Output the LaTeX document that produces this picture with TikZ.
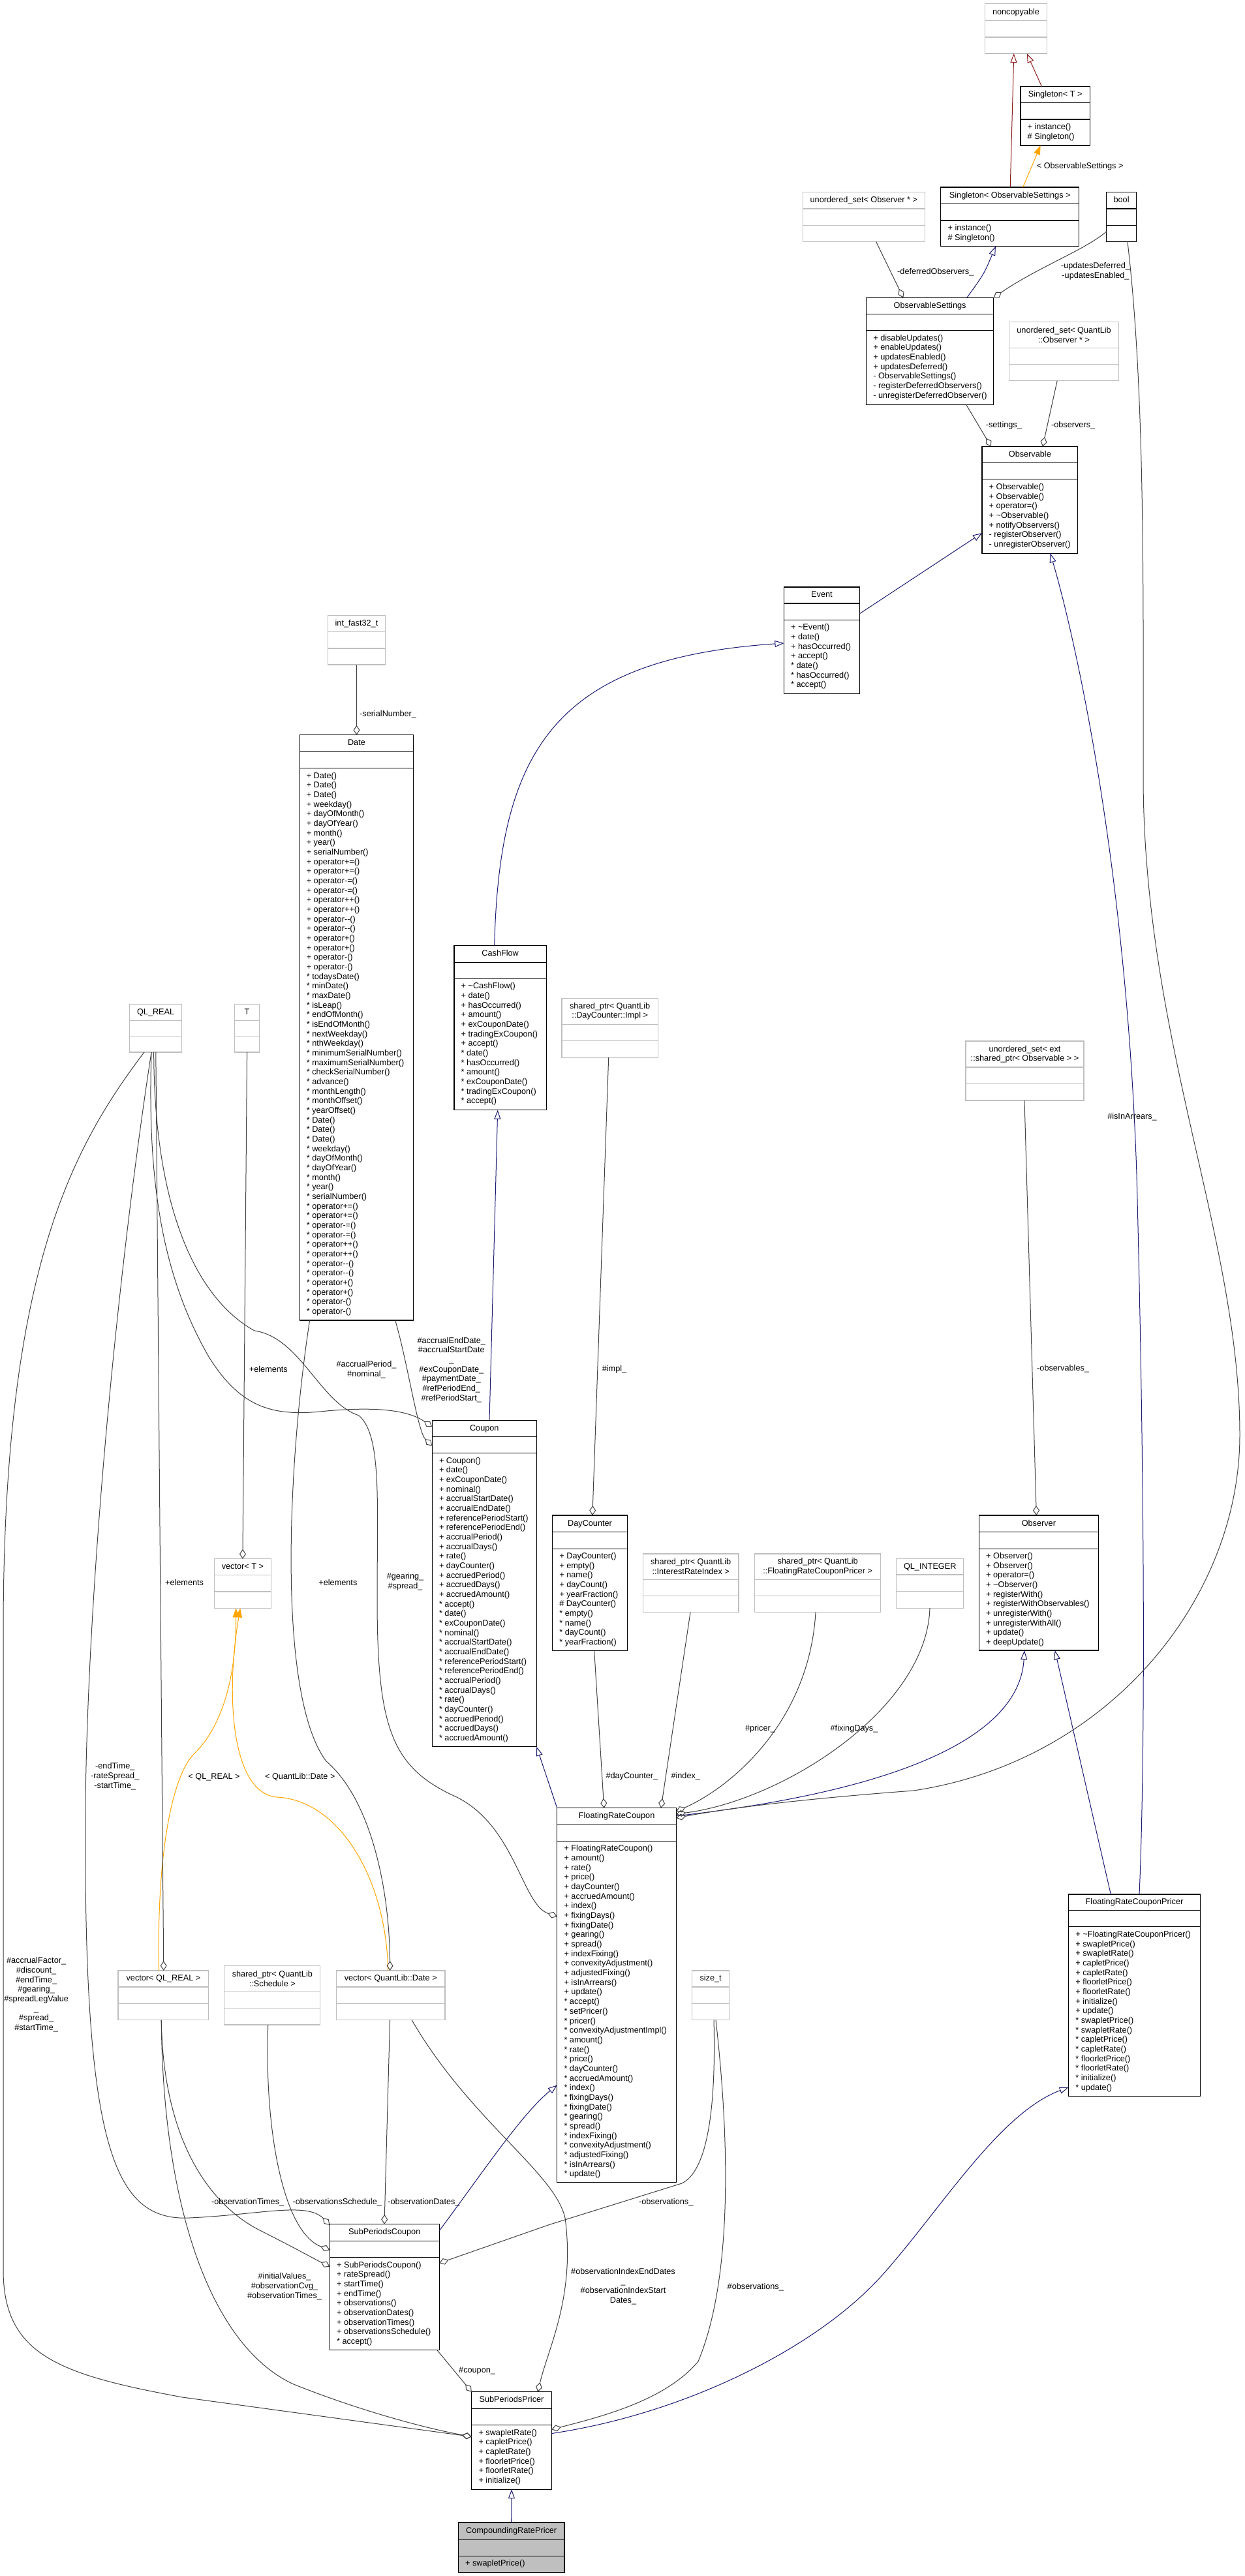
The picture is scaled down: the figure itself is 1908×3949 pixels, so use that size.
\documentclass[tikz,border=0pt]{standalone}
\usepackage{fontspec}
\setmainfont{Liberation Sans}
\usetikzlibrary{arrows.meta, calc}
\definecolor{navy}{HTML}{191970}
\definecolor{privred}{HTML}{8B1A1A}
\definecolor{usegray}{HTML}{404040}
\definecolor{extgray}{HTML}{BFBFBF}
\definecolor{tmplorange}{HTML}{FFA500}
\newcommand{\umlfont}{\fontsize{12.7}{14.67}\selectfont}
\tikzset{
  cls/.style={draw=black, line width=1.1pt, fill=white, inner sep=0pt, outer sep=0pt},
  ext/.style={cls, draw=extgray},
  focus/.style={cls, fill=extgray},
  title/.style={font=\umlfont, inner sep=0pt, align=center},
  members/.style={font=\umlfont, inner sep=0pt, align=left, anchor=north west},
  lbl/.style={font=\umlfont, inner sep=0pt, align=center},
  inherit/.style={draw=navy, line width=1pt, -{Triangle[open, length=14pt, width=10pt]}},
  private/.style={inherit, draw=privred},
  tmpl/.style={draw=tmplorange, line width=1pt, -{Triangle[length=14pt, width=10pt]}},
  uses/.style={draw=usegray, line width=1pt, -{Diamond[open, length=15pt, width=10pt]}},
}
% class box: [style]{name}{x,y of top left}{width}{height}{title height}{title}{members}
\newcommand{\umlclass}[8][cls]{%
  \node[#1, minimum width=#4, minimum height=#5, anchor=north west] (#2) at (#3) {};
  \draw[#1, fill=none] ([yshift=-#6]#2.north west) -- ([yshift=-#6]#2.north east)
    ([yshift=-#6-25.3]#2.north west) -- ([yshift=-#6-25.3]#2.north east);
  \node[title] (#2-t) at ([yshift=-#6/2]#2.north) {\rule[-2.7pt]{0pt}{12pt}#7};
  \node[members] (#2-m) at ([xshift=10.5, yshift=-#6-30.1]#2.north west) {\rule{0pt}{10.5pt}#8};
}

\begin{document}
\begin{tikzpicture}[x=1pt, y=-1pt]
\useasboundingbox (0,0) rectangle (1908,3949);

% top: settings and observable
\umlclass[ext]{noncop}{1509.6,5.7}{94.8}{76.3}{26}{noncopyable}{}
\umlclass{singT}{1564,132.7}{106.3}{90.3}{25}{Singleton< T >}{+ instance()\\\# Singleton()}
\umlclass{singOS}{1441.9,287}{211.7}{90.7}{25.7}{Singleton< ObservableSettings >}{+ instance()\\\# Singleton()}
\umlclass[ext]{usetObs}{1230.1,294.7}{187.6}{75.6}{25.3}{unordered\_set< Observer * >}{}
\umlclass{bool}{1695.4,294.7}{46.4}{75.6}{25.3}{bool}{}
\umlclass{obsSet}{1327.6,456.4}{195}{164.3}{25}{ObservableSettings}{+ disableUpdates()\\+ enableUpdates()\\+ updatesEnabled()\\+ updatesDeferred()\\- ObservableSettings()\\- registerDeferredObservers()\\- unregisterDeferredObserver()}
\umlclass[ext]{usetQL}{1546.8,493.2}{167.6}{90.7}{40.4}{unordered\_set< QuantLib\\::Observer * >}{}
\umlclass{observable}{1505,684.6}{146.7}{163.6}{25}{Observable}{+ Observable()\\+ Observable()\\+ operator=()\\+ \textasciitilde Observable()\\+ notifyObservers()\\- registerObserver()\\- unregisterObserver()}
\umlclass{event}{1201.4,900}{116.1}{163.3}{25}{Event}{+ \textasciitilde Event()\\+ date()\\+ hasOccurred()\\+ accept()\\{}* date()\\{}* hasOccurred()\\{}* accept()}

% date, cash flow, coupon
\umlclass[ext]{intfast}{502.4,943.3}{88.1}{75.7}{25.4}{int\_fast32\_t}{}
\umlclass{date}{459.1,1126.7}{174.7}{897.3}{25.5}{Date}{+ Date()\\+ Date()\\+ Date()\\+ weekday()\\+ dayOfMonth()\\+ dayOfYear()\\+ month()\\+ year()\\+ serialNumber()\\+ operator+=()\\+ operator+=()\\+ operator-=()\\+ operator-=()\\+ operator++()\\+ operator++()\\+ operator-{}-()\\+ operator-{}-()\\+ operator+()\\+ operator+()\\+ operator-()\\+ operator-()\\{}* todaysDate()\\{}* minDate()\\{}* maxDate()\\{}* isLeap()\\{}* endOfMonth()\\{}* isEndOfMonth()\\{}* nextWeekday()\\{}* nthWeekday()\\{}* minimumSerialNumber()\\{}* maximumSerialNumber()\\{}* checkSerialNumber()\\{}* advance()\\{}* monthLength()\\{}* monthOffset()\\{}* yearOffset()\\{}* Date()\\{}* Date()\\{}* Date()\\{}* weekday()\\{}* dayOfMonth()\\{}* dayOfYear()\\{}* month()\\{}* year()\\{}* serialNumber()\\{}* operator+=()\\{}* operator+=()\\{}* operator-=()\\{}* operator-=()\\{}* operator++()\\{}* operator++()\\{}* operator-{}-()\\{}* operator-{}-()\\{}* operator+()\\{}* operator+()\\{}* operator-()\\{}* operator-()}
\umlclass{cashflow}{696,1449.8}{141.3}{251.8}{25.3}{CashFlow}{+ \textasciitilde CashFlow()\\+ date()\\+ hasOccurred()\\+ amount()\\+ exCouponDate()\\+ tradingExCoupon()\\+ accept()\\{}* date()\\{}* hasOccurred()\\{}* amount()\\{}* exCouponDate()\\{}* tradingExCoupon()\\{}* accept()}
\umlclass[ext]{implPtr}{861,1530.2}{147.3}{91}{40}{shared\_ptr< QuantLib\\::DayCounter::Impl >}{}
\umlclass[ext]{qlreal}{198.7,1539.3}{79.9}{73.7}{24.9}{QL\_REAL}{}
\umlclass[ext]{tT}{359.4,1539.3}{38.4}{73.7}{24.9}{T}{}
\umlclass[ext]{usetExt}{1480,1596}{181}{91}{40}{unordered\_set< ext\\::shared\_ptr< Observable > >}{}
\umlclass{coupon}{662.3,2177.1}{160}{500.6}{25.3}{Coupon}{+ Coupon()\\+ date()\\+ exCouponDate()\\+ nominal()\\+ accrualStartDate()\\+ accrualEndDate()\\+ referencePeriodStart()\\+ referencePeriodEnd()\\+ accrualPeriod()\\+ accrualDays()\\+ rate()\\+ dayCounter()\\+ accruedPeriod()\\+ accruedDays()\\+ accruedAmount()\\{}* accept()\\{}* date()\\{}* exCouponDate()\\{}* nominal()\\{}* accrualStartDate()\\{}* accrualEndDate()\\{}* referencePeriodStart()\\{}* referencePeriodEnd()\\{}* accrualPeriod()\\{}* accrualDays()\\{}* rate()\\{}* dayCounter()\\{}* accruedPeriod()\\{}* accruedDays()\\{}* accruedAmount()}
\umlclass{dayCounter}{846.7,2323}{114.7}{207.7}{25.8}{DayCounter}{+ DayCounter()\\+ empty()\\+ name()\\+ dayCount()\\+ yearFraction()\\\# DayCounter()\\{}* empty()\\{}* name()\\{}* dayCount()\\{}* yearFraction()}
\umlclass{observer}{1500.5,2323}{182.8}{207}{25.8}{Observer}{+ Observer()\\+ Observer()\\+ operator=()\\+ \textasciitilde Observer()\\+ registerWith()\\+ registerWithObservables()\\+ unregisterWith()\\+ unregisterWithAll()\\+ update()\\+ deepUpdate()}
\umlclass[ext]{vectorT}{328.6,2389.8}{86.6}{75.6}{24.9}{vector< T >}{}
\umlclass[ext]{irIndexPtr}{985.4,2382}{146.6}{89.7}{39.2}{shared\_ptr< QuantLib\\::InterestRateIndex >}{}
\umlclass[ext]{pricerPtr}{1156.5,2382}{193.3}{89.7}{39.2}{shared\_ptr< QuantLib\\::FloatingRateCouponPricer >}{}
\umlclass[ext]{qlint}{1373.9,2389.6}{102.7}{75.6}{24.4}{QL\_INTEGER}{}

% floating rate coupon and pricers
\umlclass{frc}{853.8,2771.8}{182.6}{573.9}{25.3}{FloatingRateCoupon}{+ FloatingRateCoupon()\\+ amount()\\+ rate()\\+ price()\\+ dayCounter()\\+ accruedAmount()\\+ index()\\+ fixingDays()\\+ fixingDate()\\+ gearing()\\+ spread()\\+ indexFixing()\\+ convexityAdjustment()\\+ adjustedFixing()\\+ isInArrears()\\+ update()\\{}* accept()\\{}* setPricer()\\{}* pricer()\\{}* convexityAdjustmentImpl()\\{}* amount()\\{}* rate()\\{}* price()\\{}* dayCounter()\\{}* accruedAmount()\\{}* index()\\{}* fixingDays()\\{}* fixingDate()\\{}* gearing()\\{}* spread()\\{}* indexFixing()\\{}* convexityAdjustment()\\{}* adjustedFixing()\\{}* isInArrears()\\{}* update()}
\umlclass{frcPricer}{1637.7,2904}{201.6}{309.8}{24.5}{FloatingRateCouponPricer}{+ \textasciitilde FloatingRateCouponPricer()\\+ swapletPrice()\\+ swapletRate()\\+ capletPrice()\\+ capletRate()\\+ floorletPrice()\\+ floorletRate()\\+ initialize()\\+ update()\\{}* swapletPrice()\\{}* swapletRate()\\{}* capletPrice()\\{}* capletRate()\\{}* floorletPrice()\\{}* floorletRate()\\{}* initialize()\\{}* update()}
\umlclass[ext]{vecReal}{181,3021}{138.9}{75.5}{25}{vector< QL\_REAL >}{}
\umlclass[ext]{schedPtr}{343.9,3013.5}{146.9}{90.5}{39.7}{shared\_ptr< QuantLib\\::Schedule >}{}
\umlclass[ext]{vecDate}{515.5,3021}{166.5}{75.5}{25}{vector< QuantLib::Date >}{}
\umlclass[ext]{sizeT}{1060.8,3021}{56.7}{75.5}{25}{size\_t}{}
\umlclass{subCoupon}{505.4,3409.8}{167.8}{192.9}{25.5}{SubPeriodsCoupon}{+ SubPeriodsCoupon()\\+ rateSpread()\\+ startTime()\\+ endTime()\\+ observations()\\+ observationDates()\\+ observationTimes()\\+ observationsSchedule()\\{}* accept()}
\umlclass{subPricer}{722.8,3666.7}{122.5}{149.4}{25.7}{SubPeriodsPricer}{+ swapletRate()\\+ capletPrice()\\+ capletRate()\\+ floorletPrice()\\+ floorletRate()\\+ initialize()}
\umlclass[focus]{compPricer}{702.4,3867}{162.6}{76.6}{26.1}{CompoundingRatePricer}{+ swapletPrice()}

% inheritance
\draw[private] ($(singOS.north west)+(106.3,0)$) -- ($(noncop.south west)+(44.2,0)$);
\draw[private] ($(singT.north west)+(32.5,0)$) -- ($(noncop.south west)+(64.1,0)$);
\draw[tmpl] ($(singOS.north west)+(125.8,0)$) -- ($(singT.south west)+(30.6,0)$);
\draw[inherit] ($(obsSet.north west)+(154.2,0)$) .. controls (1508,420) .. ($(singOS.south west)+(84,0)$);
\draw[inherit] ($(event.north east)+(0,40.7)$) -- ($(observable.north west)+(0,132.5)$);
\draw[inherit] ($(cashflow.north west)+(61.7,0)$) .. controls (765,1150) and (850,1010) .. ($(event.north west)+(0,86)$);
\draw[inherit] ($(coupon.north west)+(87.7,0)$) -- ($(cashflow.south west)+(66.7,0)$);
\draw[inherit] (frc.north west) -- (coupon.south east);
\draw[inherit] ($(subCoupon.north east)+(0,10)$) .. controls (740,3330) and (800,3240) .. ($(frc.north west)+(0,424.6)$);
\draw[inherit] ($(frc.north east)+(0,12)$) .. controls (1250,2760) and (1560,2700) .. ($(observer.south west)+(69.5,0)$);
\draw[inherit] ($(frcPricer.north west)+(64.6,0)$) -- ($(observer.south west)+(116.2,0)$);
\draw[inherit] ($(frcPricer.north west)+(108.3,0)$) .. controls (1755,2700) and (1755,2300) .. (1742,1800) .. controls (1725,1300) and (1640,950) .. ($(observable.south west)+(104.5,0)$);
\draw[inherit] ($(subPricer.north east)+(0,63.8)$) .. controls (1050,3700) and (1250,3600) .. (1350,3490) .. controls (1440,3390) and (1530,3240) .. ($(frcPricer.north west)+(0,295.7)$);
\draw[inherit] (compPricer.north) -- (subPricer.south);

% templates
\draw[tmpl] ($(vecReal.north west)+(62.6,0)$) .. controls (240,2850) and (262,2720) .. (300,2686) .. controls (345,2640) and (362,2560) .. ($(vectorT.south west)+(33,0)$);
\draw[tmpl] ($(vecDate.north west)+(79.2,0)$) .. controls (592,2880) and (520,2760) .. (425,2755) .. controls (355,2750) and (345,2600) .. ($(vectorT.south west)+(39.7,0)$);

% members
\draw[uses] ($(usetObs.south west)+(112.4,0)$) -- ($(obsSet.north west)+(56.7,0)$);
\draw[uses] ($(bool.north west)+(0,60.3)$) .. controls (1665,382) and (1590,410) .. (obsSet.north east);
\draw[uses] ($(usetQL.south west)+(73.3,0)$) -- ($(observable.north west)+(92.9,0)$);
\draw[uses] ($(obsSet.south west)+(153.3,0)$) -- ($(observable.north west)+(13.9,0)$);
\draw[uses] ($(intfast.south west)+(44.1,0)$) -- ($(date.north west)+(87.4,0)$);
\draw[uses] ($(date.south west)+(146.6,0)$) .. controls (625,2090) and (640,2195) .. ($(coupon.north west)+(0,39.3)$);
\draw[uses] ($(qlreal.south west)+(33.3,0)$) .. controls (226,1800) and (245,1950) .. (320,2080) .. controls (370,2160) and (420,2172) .. (500,2163) .. controls (590,2155) and (630,2165) .. ($(coupon.north west)+(0,10.1)$);
\draw[uses] ($(qlreal.south west)+(37,0)$) .. controls (236,1850) and (300,1990) .. (390,2040) .. controls (460,2050) and (490,2150) .. (550,2170) .. controls (585,2200) and (578,2300) .. (578,2450) .. controls (578,2650) and (600,2710) .. (700,2755) .. controls (790,2800) and (800,2920) .. ($(frc.north west)+(0,166.2)$);
\draw[uses] ($(implPtr.south west)+(71.7,0)$) -- ($(dayCounter.north west)+(61.2,0)$);
\draw[uses] ($(tT.south west)+(19.2,0)$) -- ($(vectorT.north west)+(43.3,0)$);
\draw[uses] ($(qlreal.south west)+(40.1,0)$) -- ($(vecReal.north west)+(69.8,0)$);
\draw[uses] ($(date.south west)+(15.5,0)$) .. controls (440,2250) and (425,2600) .. (500,2700) .. controls (570,2760) and (597,2900) .. ($(vecDate.north west)+(82.1,0)$);
\draw[uses] ($(qlreal.south west)+(33.3,0)$) .. controls (180,1950) and (125,2500) .. (131,2880) .. controls (135,3300) and (180,3405) .. (290,3400) .. controls (400,3395) and (470,3375) .. ($(subCoupon.north west)+(0,1)$);
\draw[uses] ($(qlreal.south west)+(22.3,0)$) .. controls (110,1760) and (5,1950) .. (5,2500) -- (5,3480) .. controls (5,3610) and (90,3640) .. (280,3675) -- ($(subPricer.north west)+(0,68.7)$);
\draw[uses] ($(vecReal.south west)+(66.2,0)$) .. controls (250,3280) and (320,3380) .. (400,3420) .. controls (450,3445) and (480,3462) .. ($(subCoupon.north west)+(0,64.8)$);
\draw[uses] ($(vecReal.south west)+(66.2,0)$) .. controls (250,3400) and (330,3600) .. (450,3655) .. controls (550,3695) and (650,3722) .. ($(subPricer.north west)+(0,68.7)$);
\draw[uses] ($(schedPtr.south west)+(66.9,0)$) .. controls (405,3250) and (430,3420) .. ($(subCoupon.north west)+(0,39.4)$);
\draw[uses] ($(vecDate.south west)+(82.1,0)$) -- ($(subCoupon.north west)+(83.6,0)$);
\draw[uses] ($(vecDate.south west)+(115.5,0)$) .. controls (720,3250) and (850,3330) .. (866,3400) .. controls (882,3520) and (840,3600) .. ($(subPricer.north west)+(101.4,0)$);
\draw[uses] ($(sizeT.south west)+(33.2,0)$) .. controls (1098,3250) and (1080,3330) .. (1045,3347) -- (843,3410) -- ($(subCoupon.north east)+(0,59.5)$);
\draw[uses] ($(sizeT.south west)+(36.2,0)$) .. controls (1120,3300) and (1120,3500) .. (1070,3620) .. controls (1020,3680) and (920,3705) .. ($(subPricer.north east)+(0,57.6)$);
\draw[uses] ($(subCoupon.south west)+(164.5,0)$) -- (subPricer.north west);
\draw[uses] ($(dayCounter.south west)+(64,0)$) -- ($(frc.north west)+(71.9,0)$);
\draw[uses] ($(irIndexPtr.south west)+(72.6,0)$) -- ($(frc.north west)+(159.2,0)$);
\draw[uses] ($(pricerPtr.south west)+(93.5,0)$) .. controls (1240,2640) and (1120,2740) .. ($(frc.north east)+(0,5)$);
\draw[uses] ($(qlint.south west)+(51.1,0)$) .. controls (1420,2620) and (1200,2760) .. ($(frc.north east)+(0,9)$);
\draw[uses] ($(bool.south west)+(32.5,0)$) .. controls (1755,600) and (1752,900) .. (1752,1200) .. controls (1755,1600) and (1900,1900) .. (1900,2200) .. controls (1900,2450) and (1700,2700) .. (1400,2745) .. controls (1200,2760) and (1100,2775) .. ($(frc.north east)+(0,15)$);
\draw[uses] ($(usetExt.south west)+(90,0)$) -- ($(observer.north west)+(87.8,0)$);

% labels
\node[lbl, anchor=west] (l-os) at (1588.6,255) {< ObservableSettings >};
\node[lbl, anchor=west] (l-defobs) at (1375,416.7) {-deferredObservers\_};
\node[lbl] (l-upd) at (1679,416) {-updatesDeferred\_\\-updatesEnabled\_};
\node[lbl, anchor=west] (l-settings) at (1510.6,651.8) {-settings\_};
\node[lbl, anchor=west] (l-observers) at (1610.9,651.8) {-observers\_};
\node[lbl, anchor=west] (l-serial) at (551,1095) {-serialNumber\_};
\node[lbl, anchor=west] (l-impl) at (922.6,2099.4) {\#impl\_};
\node[lbl, anchor=west] (l-elemT) at (381.7,2099) {+elements};
\node[lbl] (l-accper) at (561.5,2099.6) {\#accrualPeriod\_\\\#nominal\_};
\node[lbl] (l-cdates) at (691.8,2099.7) {\#accrualEndDate\_\\\#accrualStartDate\\\_\\\#exCouponDate\_\\\#paymentDate\_\\\#refPeriodEnd\_\\\#refPeriodStart\_};
\node[lbl, anchor=west] (l-observables) at (1589,2098) {-observables\_};
\node[lbl] (l-gear) at (621,2425) {\#gearing\_\\\#spread\_};
\node[lbl] (l-elemR) at (282.6,2426) {+elements};
\node[lbl] (l-elemD) at (517.9,2426) {+elements};
\node[lbl] (l-pricer) at (1165,2650) {\#pricer\_};
\node[lbl] (l-fixdays) at (1309,2650) {\#fixingDays\_};
\node[lbl] (l-arrears) at (1735,1712) {\#isInArrears\_};
\node[lbl] (l-qlr) at (328,2724) {< QL\_REAL >};
\node[lbl] (l-qld) at (459.8,2724) {< QuantLib::Date >};
\node[lbl] (l-times) at (176.3,2723) {-endTime\_\\-rateSpread\_\\-startTime\_};
\node[lbl, anchor=west] (l-daycnt) at (928.3,2723.2) {\#dayCounter\_};
\node[lbl, anchor=west] (l-index) at (1028.3,2723) {\#index\_};
\node[lbl] (l-accfac) at (55.6,3057.7) {\#accrualFactor\_\\\#discount\_\\\#endTime\_\\\#gearing\_\\\#spreadLegValue\\\_\\\#spread\_\\\#startTime\_};
\node[lbl] (l-obstimes) at (379.7,3376.6) {-observationTimes\_};
\node[lbl] (l-sched) at (516.8,3376.6) {-observationsSchedule\_};
\node[lbl] (l-obsdates) at (649.5,3376.6) {-observationDates\_};
\node[lbl] (l-observations) at (1020.7,3376.6) {-observations\_};
\node[lbl] (l-init) at (436,3505) {\#initialValues\_\\\#observationCvg\_\\\#observationTimes\_};
\node[lbl] (l-idxdates) at (955,3505) {\#observationIndexEndDates\\\_\\\#observationIndexStart\\Dates\_};
\node[lbl] (l-obs2) at (1157.8,3505.7) {\#observations\_};
\node[lbl, anchor=west] (l-coupon) at (703,3634.4) {\#coupon\_};
\end{tikzpicture}
\end{document}
